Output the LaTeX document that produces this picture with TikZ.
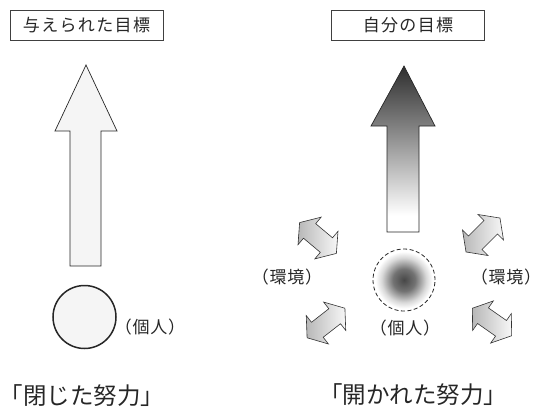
\documentclass[tikz,border=0pt]{standalone}
\usepackage{fontspec}
\newfontfamily\jp{Noto Sans CJK JP}
\newfontfamily\jpsp{Noto Sans CJK JP}[LetterSpace=8]
\newfontfamily\jpwide{Noto Sans CJK JP}[LetterSpace=4]
\pgfdeclareverticalshading{bigarrowshade}{100bp}{color(0bp)=(white); color(30bp)=(white); color(57bp)=(black!50); color(75bp)=(black!82); color(100bp)=(black!82)}
\pgfdeclareradialshading{personshade}{\pgfpoint{0bp}{0bp}}{color(0bp)=(black!72); color(9bp)=(black!55); color(18bp)=(black!15); color(23bp)=(white); color(50bp)=(white)}
\tikzset{
  titlebox/.style={draw=black!75, line width=0.6pt, minimum width=153pt, minimum height=30pt, inner sep=0pt, font=\jpsp\fontsize{17}{17}\selectfont, text=black!85},
  bigarrow/.style={draw=black!85, line width=0.7pt, line join=miter},
  dblstyle/.style={draw=black!80, line width=0.6pt, line join=miter, left color=black!28, right color=black!3},
  smalllabel/.style={font=\jpwide\fontsize{17}{17}\selectfont, text=black!85, inner sep=0pt},
  biglabel/.style={font=\jp\fontsize{23.5}{24}\selectfont, text=black!85, inner sep=0pt},
  dblarrow/.pic={\draw[dblstyle] (-24,0) -- (-11,18) -- (-11,9.5) -- (11,9.5) -- (11,18) -- (24,0) -- (11,-18) -- (11,-9.5) -- (-11,-9.5) -- (-11,-18) -- cycle;}
}
\begin{document}
\begin{tikzpicture}[x=1pt,y=-1pt]
\useasboundingbox (0,0) rectangle (544,413);
% titles
\node[titlebox] (goalL) at (86.5,25) {与えられた目標};
\node[titlebox] (goalR) at (408,25) {自分の目標};
% left big arrow
\draw[bigarrow, fill=black!4] (86,65) -- (117,131) -- (101,131) -- (101,266) -- (70,266) -- (70,131) -- (55,131) -- cycle;
% right big arrow
\draw[bigarrow, shading=bigarrowshade] (404,66) -- (435,126) -- (419,126) -- (419,232) -- (387,232) -- (387,126) -- (371,126) -- cycle;
% individuals
\node[circle, draw=black!85, line width=1.5pt, fill=black!4, minimum size=63pt, inner sep=0pt] (indL) at (84.5,317) {};
\node[circle, draw=black!85, line width=0.8pt, dash pattern=on 4pt off 2.5pt, shading=personshade, minimum size=62pt, inner sep=0pt] (indR) at (404,280) {};
\node[smalllabel] (labL) at (150,327) {（個人）};
\node[smalllabel] (labR) at (405,328) {（個人）};
\node[smalllabel] (envL) at (287,277) {（環境）};
\node[smalllabel] (envR) at (506,277) {（環境）};
% double arrows
\pic[rotate=-40] at (318,238) {dblarrow};
\pic[rotate=45] at (483,235) {dblarrow};
\pic[rotate=38] at (326,323) {dblarrow};
\pic[rotate=-35] at (492,322) {dblarrow};
% bottom labels
\node[biglabel] (effL) at (82,396) {「閉じた努力」};
\node[biglabel] (effR) at (413,395) {「開かれた努力」};
\end{tikzpicture}
\end{document}
